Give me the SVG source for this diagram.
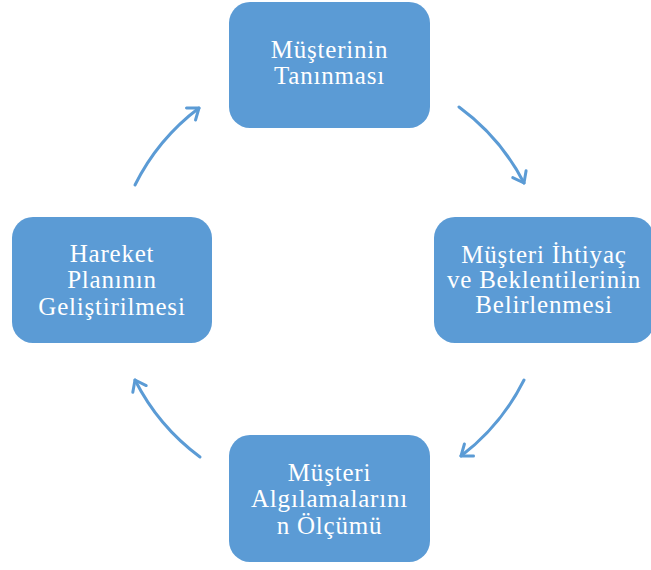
<svg xmlns="http://www.w3.org/2000/svg" width="651" height="570" viewBox="0 0 651 570">
<defs>
<style>
.box{fill:#5B9BD5;}
.t{fill:#FFFFFF;font-family:"Liberation Serif","Times New Roman",serif;font-size:25px;letter-spacing:0.8px;text-anchor:middle;}
.arc{fill:none;stroke:#5B9BD5;stroke-width:3;stroke-linecap:round;}
</style>
<marker id="ah" markerUnits="userSpaceOnUse" markerWidth="30" markerHeight="30" refX="0" refY="0" viewBox="-15 -15 30 30" orient="auto">
<path d="M-10,-7.5 L0,0 L-10,7.5" fill="none" stroke="#5B9BD5" stroke-width="3" stroke-linecap="round" stroke-linejoin="round"/>
</marker>
</defs>
<rect width="651" height="570" fill="#FFFFFF"/>
<g id="connectors">
<path class="arc" d="M135,185 A218,218 0 0 1 199,108" marker-end="url(#ah)"/>
<path class="arc" d="M459,107 A218,218 0 0 1 524,183" marker-end="url(#ah)"/>
<path class="arc" d="M524,380 A218,218 0 0 1 461,456" marker-end="url(#ah)"/>
<path class="arc" d="M200,457 A218,218 0 0 1 135,380" marker-end="url(#ah)"/>
</g>
<g id="node-top">
<rect class="box" x="229" y="2" width="201" height="126" rx="21"/>
<text class="t" x="329.5" y="58">Müşterinin</text>
<text class="t" x="329.5" y="84">Tanınması</text>
</g>
<g id="node-right">
<rect class="box" x="434" y="217" width="220" height="126" rx="21"/>
<text class="t" x="544" y="263">Müşteri İhtiyaç</text>
<text class="t" x="544" y="288">ve Beklentilerinin</text>
<text class="t" x="544" y="313">Belirlenmesi</text>
</g>
<g id="node-bottom">
<rect class="box" x="229" y="435" width="201" height="127" rx="21"/>
<text class="t" x="329.5" y="481">Müşteri</text>
<text class="t" x="329.5" y="507">Algılamalarını</text>
<text class="t" x="329.5" y="534">n Ölçümü</text>
</g>
<g id="node-left">
<rect class="box" x="12" y="217" width="200" height="126" rx="21"/>
<text class="t" x="112" y="262">Hareket</text>
<text class="t" x="112" y="288">Planının</text>
<text class="t" x="112" y="315">Geliştirilmesi</text>
</g>
</svg>
